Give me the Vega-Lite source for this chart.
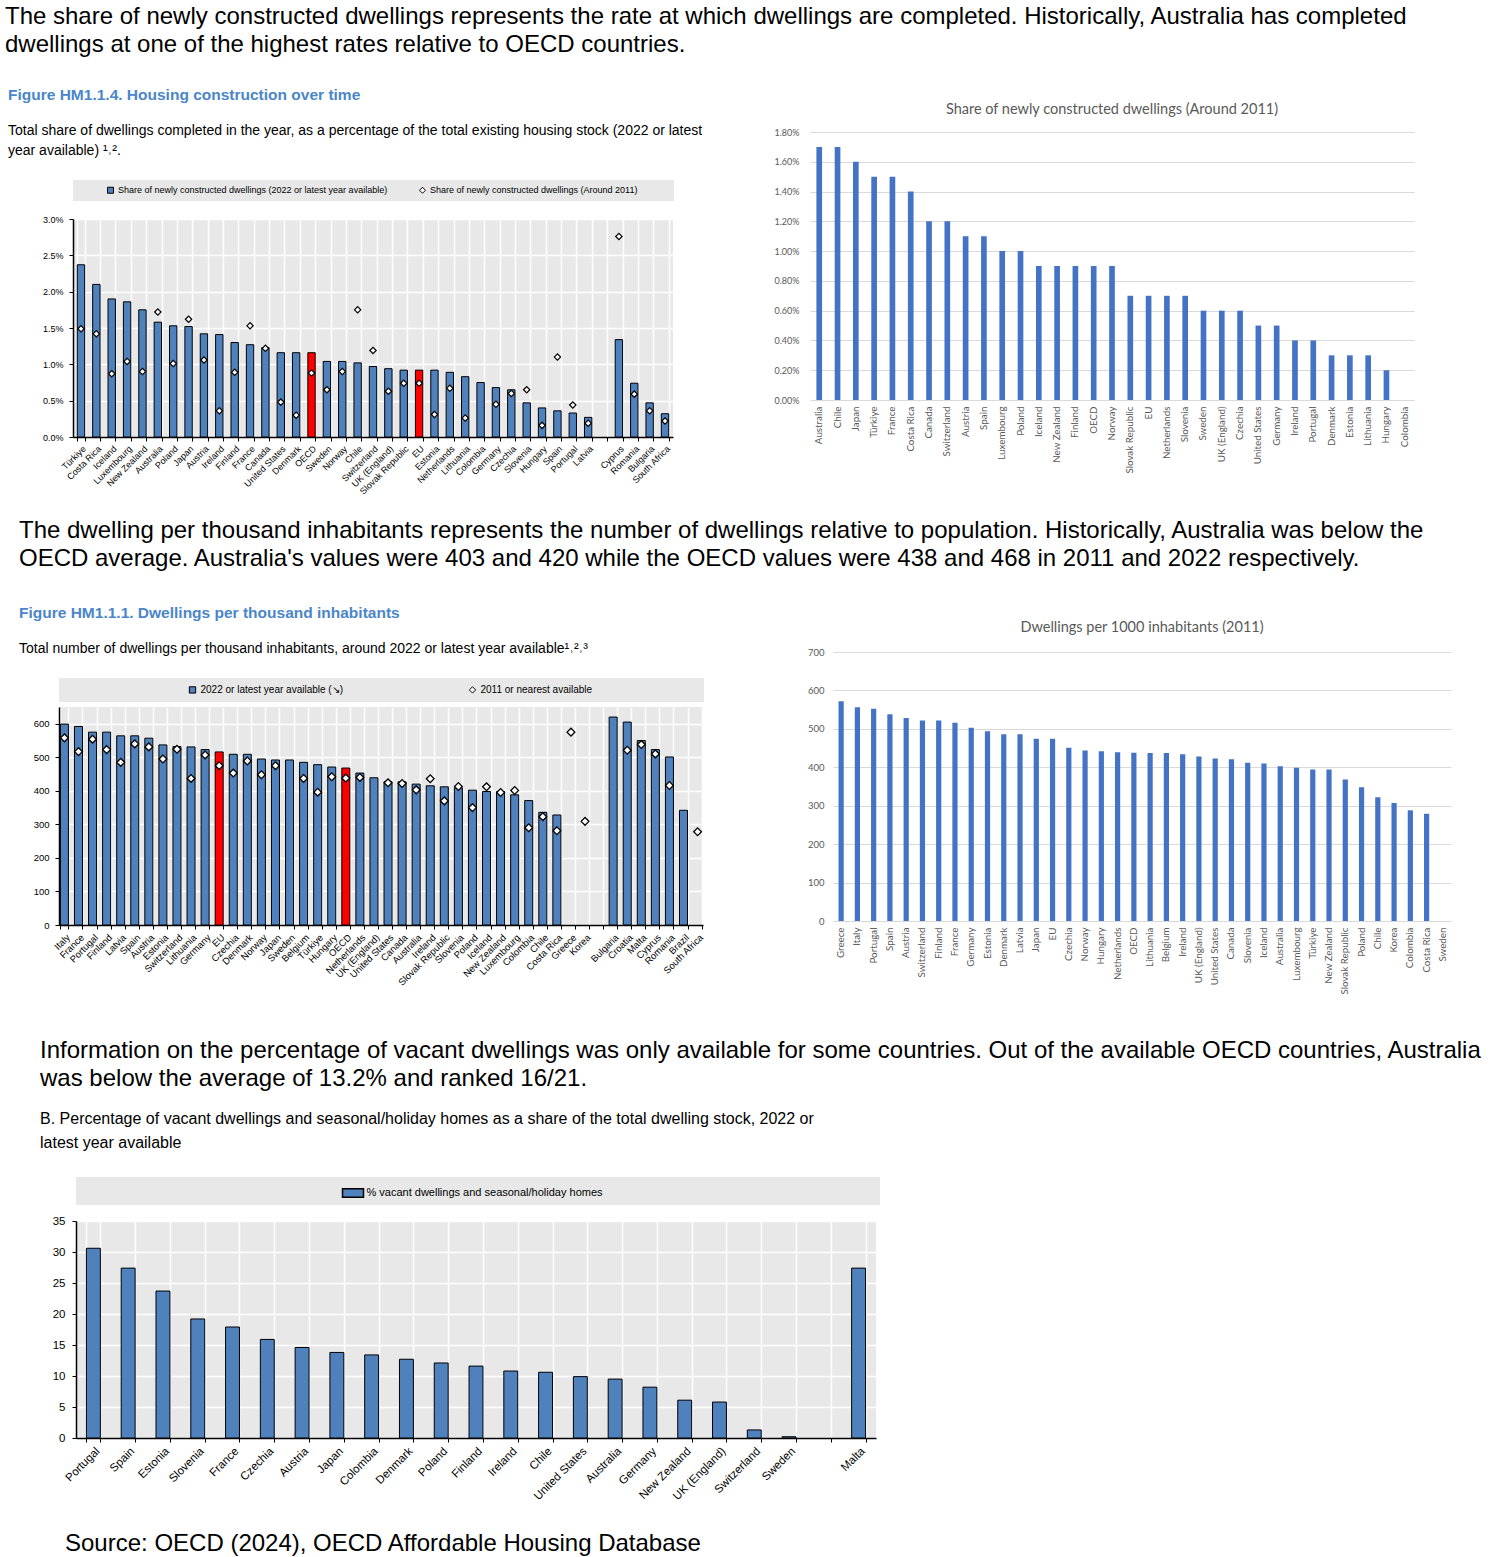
{
  "$schema": "https://vega.github.io/schema/vega-lite/v6.json",
  "background": "white",
  "padding": {"left": 4, "top": 4, "right": 5, "bottom": 4},
  "config": {
    "view": {"stroke": null},
    "font": "Liberation Sans",
    "axis": {"labelFont": "Liberation Sans", "titleFont": "Liberation Sans"},
    "legend": {"labelFont": "Liberation Sans", "titleFont": "Liberation Sans", "labelLimit": 1000, "titleLimit": 1000}
  },
  "resolve": {"scale": {"color": "independent", "shape": "independent"}, "legend": {"color": "independent", "shape": "independent"}},
  "datasets": {
    "construction": [
      {"country": "Türkiye", "share2022": 2.37, "share2011": 1.49},
      {"country": "Costa Rica", "share2022": 2.10, "share2011": 1.42},
      {"country": "Iceland", "share2022": 1.90, "share2011": 0.87},
      {"country": "Luxembourg", "share2022": 1.86, "share2011": 1.04},
      {"country": "New Zealand", "share2022": 1.75, "share2011": 0.90},
      {"country": "Australia", "share2022": 1.58, "share2011": 1.72},
      {"country": "Poland", "share2022": 1.53, "share2011": 1.01},
      {"country": "Japan", "share2022": 1.52, "share2011": 1.62},
      {"country": "Austria", "share2022": 1.42, "share2011": 1.06},
      {"country": "Ireland", "share2022": 1.41, "share2011": 0.36},
      {"country": "Finland", "share2022": 1.30, "share2011": 0.89},
      {"country": "France", "share2022": 1.27, "share2011": 1.53},
      {"country": "Canada", "share2022": 1.23, "share2011": 1.22},
      {"country": "United States", "share2022": 1.16, "share2011": 0.48},
      {"country": "Denmark", "share2022": 1.16, "share2011": 0.30},
      {"country": "OECD", "share2022": 1.16, "share2011": 0.88},
      {"country": "Sweden", "share2022": 1.04, "share2011": 0.65},
      {"country": "Norway", "share2022": 1.04, "share2011": 0.90},
      {"country": "Chile", "share2022": 1.02, "share2011": 1.75},
      {"country": "Switzerland", "share2022": 0.97, "share2011": 1.19},
      {"country": "UK (England)", "share2022": 0.94, "share2011": 0.63},
      {"country": "Slovak Republic", "share2022": 0.92, "share2011": 0.74},
      {"country": "EU", "share2022": 0.92, "share2011": 0.74},
      {"country": "Estonia", "share2022": 0.92, "share2011": 0.31},
      {"country": "Netherlands", "share2022": 0.89, "share2011": 0.67},
      {"country": "Lithuania", "share2022": 0.83, "share2011": 0.26},
      {"country": "Colombia", "share2022": 0.75, "share2011": null},
      {"country": "Germany", "share2022": 0.68, "share2011": 0.45},
      {"country": "Czechia", "share2022": 0.65, "share2011": 0.60},
      {"country": "Slovenia", "share2022": 0.47, "share2011": 0.65},
      {"country": "Hungary", "share2022": 0.40, "share2011": 0.16},
      {"country": "Spain", "share2022": 0.36, "share2011": 1.10},
      {"country": "Portugal", "share2022": 0.33, "share2011": 0.44},
      {"country": "Latvia", "share2022": 0.27, "share2011": 0.19},
      {"country": "Cyprus", "share2022": 1.34, "share2011": 2.76},
      {"country": "Romania", "share2022": 0.74, "share2011": 0.59},
      {"country": "Bulgaria", "share2022": 0.47, "share2011": 0.36},
      {"country": "South Africa", "share2022": 0.32, "share2011": 0.22}
    ],
    "construction2011": [
      {"country": "Australia", "share": 1.7},
      {"country": "Chile", "share": 1.7},
      {"country": "Japan", "share": 1.6},
      {"country": "Türkiye", "share": 1.5},
      {"country": "France", "share": 1.5},
      {"country": "Costa Rica", "share": 1.4},
      {"country": "Canada", "share": 1.2},
      {"country": "Switzerland", "share": 1.2},
      {"country": "Austria", "share": 1.1},
      {"country": "Spain", "share": 1.1},
      {"country": "Luxembourg", "share": 1.0},
      {"country": "Poland", "share": 1.0},
      {"country": "Iceland", "share": 0.9},
      {"country": "New Zealand", "share": 0.9},
      {"country": "Finland", "share": 0.9},
      {"country": "OECD", "share": 0.9},
      {"country": "Norway", "share": 0.9},
      {"country": "Slovak Republic", "share": 0.7},
      {"country": "EU", "share": 0.7},
      {"country": "Netherlands", "share": 0.7},
      {"country": "Slovenia", "share": 0.7},
      {"country": "Sweden", "share": 0.6},
      {"country": "UK (England)", "share": 0.6},
      {"country": "Czechia", "share": 0.6},
      {"country": "United States", "share": 0.5},
      {"country": "Germany", "share": 0.5},
      {"country": "Ireland", "share": 0.4},
      {"country": "Portugal", "share": 0.4},
      {"country": "Denmark", "share": 0.3},
      {"country": "Estonia", "share": 0.3},
      {"country": "Lithuania", "share": 0.3},
      {"country": "Hungary", "share": 0.2},
      {"country": "Colombia", "share": null}
    ],
    "dwellings": [
      {"country": "Italy", "v2022": 599, "v2011": 558},
      {"country": "France", "v2022": 592, "v2011": 517},
      {"country": "Portugal", "v2022": 575, "v2011": 554},
      {"country": "Finland", "v2022": 575, "v2011": 523},
      {"country": "Latvia", "v2022": 564, "v2011": 485},
      {"country": "Spain", "v2022": 564, "v2011": 540},
      {"country": "Austria", "v2022": 557, "v2011": 531},
      {"country": "Estonia", "v2022": 537, "v2011": 495},
      {"country": "Switzerland", "v2022": 532, "v2011": 524},
      {"country": "Lithuania", "v2022": 531, "v2011": 437},
      {"country": "Germany", "v2022": 523, "v2011": 507},
      {"country": "EU", "v2022": 516, "v2011": 475},
      {"country": "Czechia", "v2022": 509, "v2011": 453},
      {"country": "Denmark", "v2022": 509, "v2011": 489},
      {"country": "Norway", "v2022": 495, "v2011": 448},
      {"country": "Japan", "v2022": 492, "v2011": 475},
      {"country": "Sweden", "v2022": 492, "v2011": null},
      {"country": "Belgium", "v2022": 485, "v2011": 437},
      {"country": "Türkiye", "v2022": 478, "v2011": 396},
      {"country": "Hungary", "v2022": 471, "v2011": 442},
      {"country": "OECD", "v2022": 468, "v2011": 438},
      {"country": "Netherlands", "v2022": 453, "v2011": 440},
      {"country": "UK (England)", "v2022": 439, "v2011": null},
      {"country": "United States", "v2022": 427, "v2011": 424},
      {"country": "Canada", "v2022": 427, "v2011": 422},
      {"country": "Australia", "v2022": 420, "v2011": 403},
      {"country": "Ireland", "v2022": 415, "v2011": 436},
      {"country": "Slovak Republic", "v2022": 412, "v2011": 370},
      {"country": "Slovenia", "v2022": 409, "v2011": 413},
      {"country": "Poland", "v2022": 402, "v2011": 350},
      {"country": "Iceland", "v2022": 398, "v2011": 412},
      {"country": "New Zealand", "v2022": 398, "v2011": 395},
      {"country": "Luxembourg", "v2022": 388, "v2011": 401},
      {"country": "Colombia", "v2022": 371, "v2011": 290},
      {"country": "Chile", "v2022": 336, "v2011": 323},
      {"country": "Costa Rica", "v2022": 328, "v2011": 281},
      {"country": "Greece", "v2022": null, "v2011": 575},
      {"country": "Korea", "v2022": null, "v2011": 309},
      {"country": "Bulgaria", "v2022": 620, "v2011": null},
      {"country": "Croatia", "v2022": 605, "v2011": 521},
      {"country": "Malta", "v2022": 550, "v2011": 538},
      {"country": "Cyprus", "v2022": 523, "v2011": 510},
      {"country": "Romania", "v2022": 501, "v2011": 416},
      {"country": "Brazil", "v2022": 342, "v2011": null},
      {"country": "South Africa", "v2022": null, "v2011": 278}
    ],
    "dwellings2011": [
      {"country": "Greece", "value": 572},
      {"country": "Italy", "value": 556},
      {"country": "Portugal", "value": 552},
      {"country": "Spain", "value": 538},
      {"country": "Austria", "value": 528},
      {"country": "Switzerland", "value": 522},
      {"country": "Finland", "value": 522},
      {"country": "France", "value": 516},
      {"country": "Germany", "value": 503},
      {"country": "Estonia", "value": 494},
      {"country": "Denmark", "value": 486},
      {"country": "Latvia", "value": 486},
      {"country": "Japan", "value": 474},
      {"country": "EU", "value": 474},
      {"country": "Czechia", "value": 451},
      {"country": "Norway", "value": 444},
      {"country": "Hungary", "value": 442},
      {"country": "Netherlands", "value": 439},
      {"country": "OECD", "value": 438},
      {"country": "Lithuania", "value": 437},
      {"country": "Belgium", "value": 437},
      {"country": "Ireland", "value": 434},
      {"country": "UK (England)", "value": 428},
      {"country": "United States", "value": 423},
      {"country": "Canada", "value": 421},
      {"country": "Slovenia", "value": 412},
      {"country": "Iceland", "value": 410},
      {"country": "Australia", "value": 403},
      {"country": "Luxembourg", "value": 399},
      {"country": "Türkiye", "value": 394},
      {"country": "New Zealand", "value": 394},
      {"country": "Slovak Republic", "value": 368},
      {"country": "Poland", "value": 348},
      {"country": "Chile", "value": 322},
      {"country": "Korea", "value": 307},
      {"country": "Colombia", "value": 288},
      {"country": "Costa Rica", "value": 279},
      {"country": "Sweden", "value": null}
    ],
    "vacant": [
      {"country": "Portugal", "pct": 30.6},
      {"country": "Spain", "pct": 27.4},
      {"country": "Estonia", "pct": 23.7},
      {"country": "Slovenia", "pct": 19.2},
      {"country": "France", "pct": 17.9},
      {"country": "Czechia", "pct": 15.9},
      {"country": "Austria", "pct": 14.6},
      {"country": "Japan", "pct": 13.8},
      {"country": "Colombia", "pct": 13.4},
      {"country": "Denmark", "pct": 12.7},
      {"country": "Poland", "pct": 12.1},
      {"country": "Finland", "pct": 11.6},
      {"country": "Ireland", "pct": 10.8},
      {"country": "Chile", "pct": 10.6},
      {"country": "United States", "pct": 9.9},
      {"country": "Australia", "pct": 9.5},
      {"country": "Germany", "pct": 8.2},
      {"country": "New Zealand", "pct": 6.1},
      {"country": "UK (England)", "pct": 5.8},
      {"country": "Switzerland", "pct": 1.3},
      {"country": "Sweden", "pct": 0.2},
      {"country": "Malta", "pct": 27.4}
    ]
  },
  "title": {
    "text": "Source: OECD (2024), OECD Affordable Housing Database",
    "orient": "bottom", "anchor": "start", "dx": 61, "offset": 30,
    "font": "Liberation Sans", "fontSize": 24, "fontWeight": "normal", "color": "#000000"
  },
  "spacing": 22,
  "vconcat": [
    {
      "spacing": 0,
      "resolve": {"scale": {"color": "independent", "shape": "independent"}, "legend": {"color": "independent", "shape": "independent"}},
      "hconcat": [
        {"width": 1, "height": 1, "view": {"fill": "#ffffff"}, "data": {"values": []}, "mark": "point", "encoding": {}},
        {
          "title": {
            "text": ["The share of newly constructed dwellings represents the rate at which dwellings are completed. Historically, Australia has completed", "dwellings at one of the highest rates relative to OECD countries."],
            "anchor": "start", "dx": -3, "offset": 31, "lineHeight": 28,
            "font": "Liberation Sans", "fontSize": 24, "fontWeight": "normal", "color": "#000000"
          },
          "spacing": 71,
          "align": "none",
          "resolve": {"scale": {"color": "independent", "shape": "independent"}, "legend": {"color": "independent", "shape": "independent"}},
          "hconcat": [
            {
              "spacing": 22,
              "resolve": {"scale": {"color": "independent", "shape": "independent"}, "legend": {"color": "independent", "shape": "independent"}},
              "vconcat": [
                {
                  "width": 600, "height": 1, "data": {"values": []}, "mark": "point", "encoding": {},
                  "title": {
                    "text": "Figure HM1.1.4. Housing construction over time",
                    "subtitle": ["Total share of dwellings completed in the year, as a percentage of the total existing housing stock (2022 or latest", "year available) ¹˒²."],
                    "frame": "group", "anchor": "start", "dx": -65, "offset": -26,
                    "font": "Liberation Sans", "fontSize": 15.5, "fontWeight": "bold", "color": "#4a86c8",
                    "subtitleFont": "Liberation Sans", "subtitleFontSize": 14, "subtitleColor": "#000000",
                    "subtitleLineHeight": 20, "subtitlePadding": 21
                  }
                },
                {
                  "data": {"name": "construction"},
                  "width": 600,
                  "height": 218,
                  "view": {"fill": "#e8e8e8"},
                  "encoding": {
                    "x": {
                      "field": "country", "type": "nominal",
                      "scale": {
                        "domain": ["Türkiye", "Costa Rica", "Iceland", "Luxembourg", "New Zealand", "Australia", "Poland", "Japan", "Austria", "Ireland", "Finland", "France", "Canada", "United States", "Denmark", "OECD", "Sweden", "Norway", "Chile", "Switzerland", "UK (England)", "Slovak Republic", "EU", "Estonia", "Netherlands", "Lithuania", "Colombia", "Germany", "Czechia", "Slovenia", "Hungary", "Spain", "Portugal", "Latvia", " ", "Cyprus", "Romania", "Bulgaria", "South Africa"],
                        "paddingInner": 0.52, "paddingOuter": 0.28
                      },
                      "axis": {
                        "title": null, "labelAngle": -45, "labelFontSize": 9, "labelColor": "#000000",
                        "labelPadding": 3, "labelOverlap": false, "tickBand": "extent", "tickColor": "#000000",
                        "tickSize": 4, "domainColor": "#000000", "domainWidth": 1.5,
                        "grid": true, "gridColor": "#ffffff", "gridWidth": 1.5
                      }
                    }
                  },
                  "layer": [
                    {
                      "mark": {"type": "bar", "stroke": "#000000", "strokeWidth": 1},
                      "encoding": {
                        "y": {
                          "field": "share2022", "type": "quantitative",
                          "scale": {"domain": [0, 3], "nice": false},
                          "axis": {
                            "title": null, "values": [0, 0.5, 1, 1.5, 2, 2.5, 3],
                            "labelExpr": "format(datum.value, '.1f') + '%'", "labelOverlap": false,
                            "labelFontSize": 9, "labelColor": "#000000", "labelPadding": 6,
                            "grid": true, "gridColor": "#ffffff", "gridWidth": 1.5,
                            "domainColor": "#000000", "domainWidth": 1.5, "tickColor": "#000000", "tickSize": 4
                          }
                        },
                        "color": {
                          "datum": "Share of newly constructed dwellings (2022 or latest year available)",
                          "condition": {"test": "datum.country == 'EU' || datum.country == 'OECD'", "value": "#ff0000"},
                          "scale": {
                            "domain": ["Share of newly constructed dwellings (2022 or latest year available)", "Share of newly constructed dwellings  (Around 2011)"],
                            "range": ["#4f81bd", "#ffffff"]
                          },
                          "legend": {
                            "title": "MMM", "titleColor": "#e8e8e8", "titleOrient": "left", "titleFontSize": 9, "titlePadding": 4.5,
                            "orient": "top", "direction": "horizontal", "offset": 18,
                            "fillColor": "#e8e8e8", "padding": 5.5, "columnPadding": 29,
                            "labelFontSize": 9, "labelColor": "#000000", "labelOffset": 3,
                            "symbolSize": 36, "symbolStrokeColor": "#000000", "symbolStrokeWidth": 1,
                            "labelExpr": "indexof(datum.label, '2011') >= 0 ? datum.label + '⠀⠀⠀⠀' : datum.label"
                          }
                        }
                      }
                    },
                    {
                      "mark": {"type": "point", "filled": true, "size": 40, "stroke": "#000000", "strokeWidth": 1.2, "opacity": 1},
                      "encoding": {
                        "y": {
                          "field": "share2011", "type": "quantitative",
                          "axis": {
                            "title": null, "values": [0, 0.5, 1, 1.5, 2, 2.5, 3],
                            "labelExpr": "format(datum.value, '.1f') + '%'", "labelOverlap": false,
                            "labelFontSize": 9, "labelColor": "#000000", "labelPadding": 6,
                            "grid": true, "gridColor": "#ffffff", "gridWidth": 1.5,
                            "domainColor": "#000000", "domainWidth": 1.5, "tickColor": "#000000", "tickSize": 4
                          }
                        },
                        "color": {"datum": "Share of newly constructed dwellings  (Around 2011)"},
                        "shape": {
                          "datum": "Share of newly constructed dwellings  (Around 2011)",
                          "scale": {
                            "domain": ["Share of newly constructed dwellings (2022 or latest year available)", "Share of newly constructed dwellings  (Around 2011)"],
                            "range": ["square", "diamond"]
                          },
                          "legend": {"title": "MMM"}
                        }
                      }
                    }
                  ]
                }
              ]
            },
            {
              "data": {"name": "construction2011"},
              "width": 604,
              "height": 268,
              "title": {
                "text": "Share of newly constructed dwellings  (Around 2011)",
                "anchor": "middle", "offset": 11,
                "font": "Lato", "fontSize": 14.5, "fontWeight": "normal", "color": "#595959"
              },
              "mark": {"type": "bar", "color": "#4472c4"},
              "encoding": {
                "x": {
                  "field": "country", "type": "nominal",
                  "scale": {
                    "domain": ["Australia", "Chile", "Japan", "Türkiye", "France", "Costa Rica", "Canada", "Switzerland", "Austria", "Spain", "Luxembourg", "Poland", "Iceland", "New Zealand", "Finland", "OECD", "Norway", "Slovak Republic", "EU", "Netherlands", "Slovenia", "Sweden", "UK (England)", "Czechia", "United States", "Germany", "Ireland", "Portugal", "Denmark", "Estonia", "Lithuania", "Hungary", "Colombia"],
                    "paddingInner": 0.69, "paddingOuter": 0.35
                  },
                  "axis": {
                    "title": null, "labelAngle": -90, "labelFont": "Lato", "labelFontSize": 9.8,
                    "labelColor": "#595959", "ticks": false, "domain": false, "labelPadding": 6
                  }
                },
                "y": {
                  "field": "share", "type": "quantitative",
                  "scale": {"domain": [0, 1.8], "nice": false},
                  "axis": {
                    "title": null, "values": [0, 0.2, 0.4, 0.6, 0.8, 1, 1.2, 1.4, 1.6, 1.8],
                    "labelExpr": "format(datum.value, '.2f') + '%'", "labelOverlap": false,
                    "labelFont": "Lato", "labelFontSize": 9, "labelColor": "#595959", "labelPadding": 11,
                    "grid": true, "gridColor": "#d9d9d9", "domain": false, "ticks": false
                  }
                }
              }
            }
          ]
        }
      ]
    },
    {
      "spacing": 44,
      "resolve": {"scale": {"color": "independent", "shape": "independent"}, "legend": {"color": "independent", "shape": "independent"}},
      "vconcat": [
        {
          "spacing": 0,
          "resolve": {"scale": {"color": "independent", "shape": "independent"}, "legend": {"color": "independent", "shape": "independent"}},
          "hconcat": [
            {"width": 15, "height": 1, "view": {"fill": "#ffffff"}, "data": {"values": []}, "mark": "point", "encoding": {}},
            {
              "title": {
                "text": ["The dwelling per thousand inhabitants represents the number of dwellings relative to population. Historically, Australia was below the", "OECD average. Australia's values were 403 and 420 while the OECD values were 438 and 468 in 2011 and 2022 respectively."],
                "anchor": "start", "offset": 35, "lineHeight": 28,
                "font": "Liberation Sans", "fontSize": 24, "fontWeight": "normal", "color": "#000000"
              },
              "spacing": 102,
              "align": "none",
              "resolve": {"scale": {"color": "independent", "shape": "independent"}, "legend": {"color": "independent", "shape": "independent"}},
              "hconcat": [
                {
                  "spacing": 22,
                  "resolve": {"scale": {"color": "independent", "shape": "independent"}, "legend": {"color": "independent", "shape": "independent"}},
                  "vconcat": [
                    {
                      "width": 644, "height": 1, "data": {"values": []}, "mark": "point", "encoding": {},
                      "title": {
                        "text": "Figure HM1.1.1. Dwellings per thousand inhabitants",
                        "subtitle": "Total number of dwellings per thousand inhabitants, around 2022 or latest year available¹˒²˒³",
                        "frame": "group", "anchor": "start", "dx": -40, "offset": -4,
                        "font": "Liberation Sans", "fontSize": 15.5, "fontWeight": "bold", "color": "#4a86c8",
                        "subtitleFont": "Liberation Sans", "subtitleFontSize": 14, "subtitleColor": "#000000",
                        "subtitlePadding": 21
                      }
                    },
                    {
                      "data": {"name": "dwellings"},
                      "width": 644,
                      "height": 218,
                      "view": {"fill": "#e8e8e8"},
                      "encoding": {
                        "x": {
                          "field": "country", "type": "nominal",
                          "scale": {
                            "domain": ["Italy", "France", "Portugal", "Finland", "Latvia", "Spain", "Austria", "Estonia", "Switzerland", "Lithuania", "Germany", "EU", "Czechia", "Denmark", "Norway", "Japan", "Sweden", "Belgium", "Türkiye", "Hungary", "OECD", "Netherlands", "UK (England)", "United States", "Canada", "Australia", "Ireland", "Slovak Republic", "Slovenia", "Poland", "Iceland", "New Zealand", "Luxembourg", "Colombia", "Chile", "Costa Rica", "Greece", "Korea", " ", "Bulgaria", "Croatia", "Malta", "Cyprus", "Romania", "Brazil", "South Africa"],
                            "paddingInner": 0.43, "paddingOuter": 0.1
                          },
                          "axis": {
                            "title": null, "labelAngle": -45, "labelFontSize": 9.5, "labelColor": "#000000",
                            "labelPadding": 3, "labelOverlap": false, "tickBand": "extent", "tickColor": "#000000",
                            "tickSize": 4, "domainColor": "#000000", "domainWidth": 1.5,
                            "grid": true, "gridColor": "#ffffff", "gridWidth": 1.5
                          }
                        }
                      },
                      "layer": [
                        {
                          "mark": {"type": "bar", "stroke": "#000000", "strokeWidth": 1},
                          "encoding": {
                            "y": {
                              "field": "v2022", "type": "quantitative",
                              "scale": {"domain": [0, 650], "nice": false},
                              "axis": {
                                "title": null, "values": [0, 100, 200, 300, 400, 500, 600], "labelOverlap": false,
                                "labelFontSize": 9.5, "labelColor": "#000000", "labelPadding": 6,
                                "grid": true, "gridColor": "#ffffff", "gridWidth": 1.5,
                                "domainColor": "#000000", "domainWidth": 1.5, "tickColor": "#000000", "tickSize": 4
                              }
                            },
                            "color": {
                              "datum": "2022 or latest year available (↘)",
                              "condition": {"test": "datum.country == 'EU' || datum.country == 'OECD'", "value": "#ff0000"},
                              "scale": {
                                "domain": ["2022 or latest year available (↘)", "2011 or nearest available"],
                                "range": ["#4f81bd", "#ffffff"]
                              },
                              "legend": {
                                "title": "MMMMMMMMMMMMMM", "titleColor": "#e8e8e8", "titleOrient": "left", "titleFontSize": 10, "titlePadding": 5,
                                "orient": "top", "direction": "horizontal", "offset": 5,
                                "fillColor": "#e8e8e8", "padding": 6.5, "columnPadding": 123,
                                "labelFontSize": 10, "labelColor": "#000000", "labelOffset": 3,
                                "symbolSize": 40, "symbolStrokeColor": "#000000", "symbolStrokeWidth": 1,
                                "labelExpr": "indexof(datum.label, '2011') >= 0 ? datum.label + '⠀⠀⠀⠀⠀⠀⠀⠀⠀⠀⠀⠀⠀⠀⠀' : datum.label"
                              }
                            }
                          }
                        },
                        {
                          "mark": {"type": "point", "filled": true, "size": 60, "stroke": "#000000", "strokeWidth": 1.3, "opacity": 1},
                          "encoding": {
                            "y": {
                              "field": "v2011", "type": "quantitative",
                              "axis": {
                                "title": null, "values": [0, 100, 200, 300, 400, 500, 600], "labelOverlap": false,
                                "labelFontSize": 9.5, "labelColor": "#000000", "labelPadding": 6,
                                "grid": true, "gridColor": "#ffffff", "gridWidth": 1.5,
                                "domainColor": "#000000", "domainWidth": 1.5, "tickColor": "#000000", "tickSize": 4
                              }
                            },
                            "color": {"datum": "2011 or nearest available"},
                            "shape": {
                              "datum": "2011 or nearest available",
                              "scale": {
                                "domain": ["2022 or latest year available (↘)", "2011 or nearest available"],
                                "range": ["square", "diamond"]
                              },
                              "legend": {"title": "MMMMMMMMMMMMMM"}
                            }
                          }
                        }
                      ]
                    }
                  ]
                },
                {
                  "data": {"name": "dwellings2011"},
                  "width": 618,
                  "height": 269,
                  "title": {
                    "text": "Dwellings per 1000 inhabitants (2011)",
                    "anchor": "middle", "offset": 12,
                    "font": "Lato", "fontSize": 14.5, "fontWeight": "normal", "color": "#595959"
                  },
                  "mark": {"type": "bar", "color": "#4472c4"},
                  "encoding": {
                    "x": {
                      "field": "country", "type": "nominal",
                      "scale": {
                        "domain": ["Greece", "Italy", "Portugal", "Spain", "Austria", "Switzerland", "Finland", "France", "Germany", "Estonia", "Denmark", "Latvia", "Japan", "EU", "Czechia", "Norway", "Hungary", "Netherlands", "OECD", "Lithuania", "Belgium", "Ireland", "UK (England)", "United States", "Canada", "Slovenia", "Iceland", "Australia", "Luxembourg", "Türkiye", "New Zealand", "Slovak Republic", "Poland", "Chile", "Korea", "Colombia", "Costa Rica", "Sweden"],
                        "paddingInner": 0.68, "paddingOuter": 0.34
                      },
                      "axis": {
                        "title": null, "labelAngle": -90, "labelFont": "Lato", "labelFontSize": 9.8,
                        "labelColor": "#595959", "ticks": false, "domain": false, "labelPadding": 6
                      }
                    },
                    "y": {
                      "field": "value", "type": "quantitative",
                      "scale": {"domain": [0, 700], "nice": false},
                      "axis": {
                        "title": null, "values": [0, 100, 200, 300, 400, 500, 600, 700], "labelOverlap": false,
                        "labelFont": "Lato", "labelFontSize": 9.5, "labelColor": "#595959", "labelPadding": 9,
                        "grid": true, "gridColor": "#d9d9d9", "domain": false, "ticks": false
                      }
                    }
                  }
                }
              ]
            }
          ]
        },
        {
          "spacing": 0,
          "resolve": {"scale": {"color": "independent", "shape": "independent"}, "legend": {"color": "independent", "shape": "independent"}},
          "hconcat": [
            {"width": 36, "height": 1, "view": {"fill": "#ffffff"}, "data": {"values": []}, "mark": "point", "encoding": {}},
            {
              "title": {
                "text": ["Information on the percentage of vacant dwellings was only available for some countries. Out of the available OECD countries, Australia", "was below the average of 13.2% and ranked 16/21."],
                "anchor": "start", "offset": 20, "lineHeight": 28,
                "font": "Liberation Sans", "fontSize": 24, "fontWeight": "normal", "color": "#000000"
              },
              "resolve": {"scale": {"color": "independent", "shape": "independent"}, "legend": {"color": "independent", "shape": "independent"}},
              "vconcat": [
                {
                  "data": {"name": "vacant"},
                  "width": 800,
                  "height": 217,
                  "view": {"fill": "#e8e8e8"},
                  "title": {
                    "text": ["B. Percentage of vacant dwellings and seasonal/holiday homes as a share of the total dwelling stock, 2022 or", "latest year available"],
                    "frame": "group", "anchor": "start", "dx": -36, "offset": 26, "lineHeight": 24,
                    "font": "Liberation Sans", "fontSize": 16, "fontWeight": "normal", "color": "#000000"
                  },
                  "mark": {"type": "bar", "stroke": "#000000", "strokeWidth": 1},
                  "encoding": {
                    "x": {
                      "field": "country", "type": "nominal",
                      "scale": {
                        "domain": ["Portugal", "Spain", "Estonia", "Slovenia", "France", "Czechia", "Austria", "Japan", "Colombia", "Denmark", "Poland", "Finland", "Ireland", "Chile", "United States", "Australia", "Germany", "New Zealand", "UK (England)", "Switzerland", "Sweden", " ", "Malta"],
                        "paddingInner": 0.6, "paddingOuter": 0.3
                      },
                      "axis": {
                        "title": null, "labelAngle": -45, "labelFontSize": 11.5, "labelColor": "#000000",
                        "labelPadding": 3, "labelOverlap": false, "tickBand": "extent", "tickColor": "#000000",
                        "tickSize": 4, "domainColor": "#000000", "domainWidth": 1.5,
                        "grid": true, "gridColor": "#ffffff", "gridWidth": 1.5
                      }
                    },
                    "y": {
                      "field": "pct", "type": "quantitative",
                      "scale": {"domain": [0, 35], "nice": false},
                      "axis": {
                        "title": null, "values": [0, 5, 10, 15, 20, 25, 30, 35], "labelOverlap": false,
                        "labelFontSize": 11.5, "labelColor": "#000000", "labelPadding": 7,
                        "grid": true, "gridColor": "#ffffff", "gridWidth": 1.5,
                        "domainColor": "#000000", "domainWidth": 1.5, "tickColor": "#000000", "tickSize": 4
                      }
                    },
                    "color": {
                      "datum": "% vacant dwellings and seasonal/holiday homes",
                      "scale": {"domain": ["% vacant dwellings and seasonal/holiday homes"], "range": ["#4f81bd"]},
                      "legend": {
                        "title": "MMMMMMMMMMMMMMMMMMMMMMMMM", "titleColor": "#e8e8e8", "titleOrient": "left", "titleFontSize": 12, "titlePadding": 11,
                        "orient": "top", "offset": 16,
                        "fillColor": "#e8e8e8", "padding": 4.5,
                        "labelFontSize": 11, "labelColor": "#000000", "labelOffset": 2,
                        "symbolType": "M-1,-0.4L1,-0.4L1,0.4L-1,0.4Z", "symbolSize": 441,
                        "labelExpr": "datum.label + '⠀⠀⠀⠀⠀⠀⠀⠀⠀⠀⠀⠀⠀⠀⠀⠀⠀⠀⠀⠀⠀⠀⠀⠀⠀⠀⠀⠀⠀⠀⠀⠀⠀⠀'"
                      }
                    }
                  }
                }
              ]
            }
          ]
        }
      ]
    }
  ]
}
